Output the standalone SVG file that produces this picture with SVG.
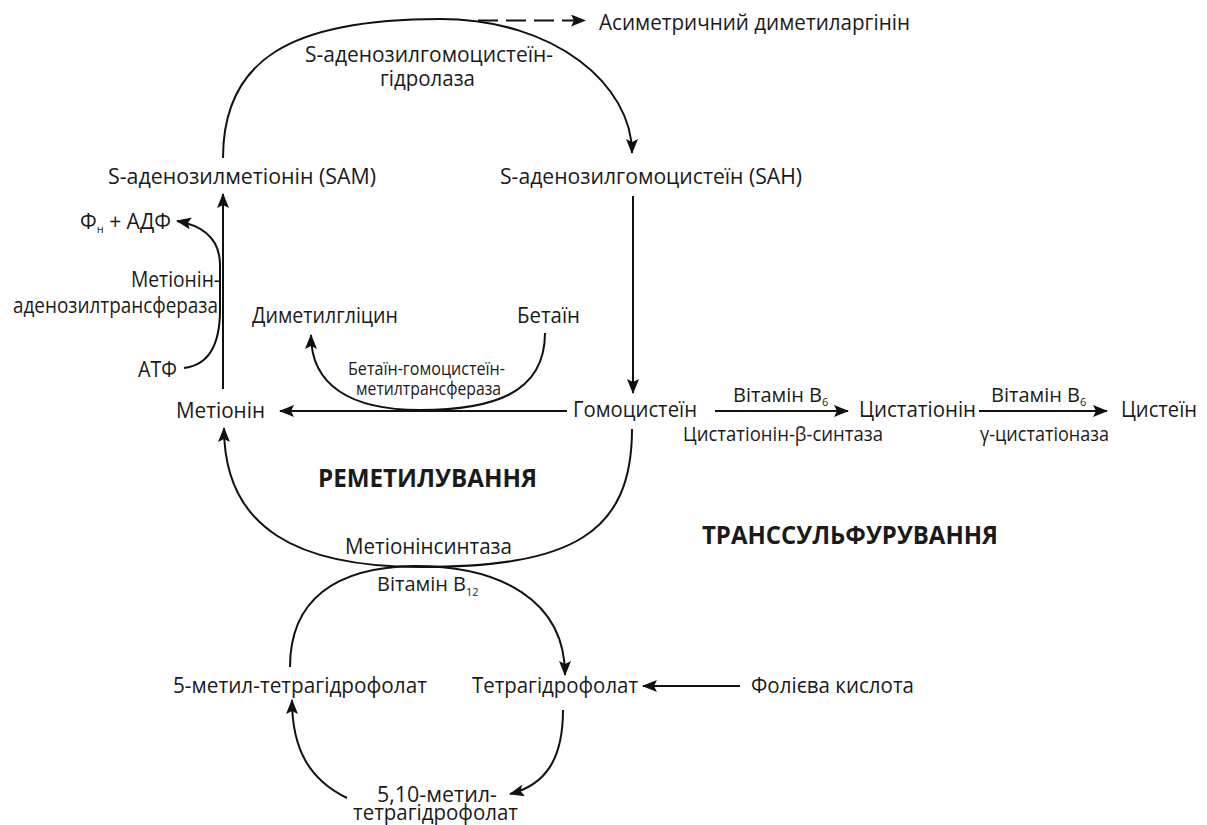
<svg xmlns="http://www.w3.org/2000/svg" width="1207" height="825" viewBox="0 0 1207 825">
<defs>
<style>
text{font-family:"Open Sans","Noto Sans","DejaVu Sans",sans-serif;font-size:21px;fill:#1a1a1a}
.sm{font-size:18px}
.enz{font-size:20px}
.b{font-weight:bold;font-size:25px}
.sub{font-size:11px}
.c{fill:none;stroke:#111;stroke-width:2}
.d{fill:none;stroke:#111;stroke-width:2;stroke-dasharray:20 8}
</style>
<marker id="ah" viewBox="0 0 15 12" markerWidth="15" markerHeight="12" refX="14" refY="6" orient="auto" markerUnits="userSpaceOnUse">
<path d="M0,0 L15,6 L0,12 L3,6 Z" fill="#111"/>
</marker>
</defs>
<rect width="1207" height="825" fill="#fff"/>

<g id="connectors">
<path class="c" d="M223,158 C223,60 290,19 440,19 C555,19 632,85 632,153" marker-end="url(#ah)"/>
<path class="d" d="M478,20.5 L585,20.5" marker-end="url(#ah)"/>
<path class="c" d="M223,389 L223,194" marker-end="url(#ah)"/>
<path class="c" d="M184,368 C209,365 220,345 220,310 L220,265 C220,240 205,226 177,221" marker-end="url(#ah)"/>
<path class="c" d="M633,196 L633,393" marker-end="url(#ah)"/>
<path class="c" d="M567,411 L280,411" marker-end="url(#ah)"/>
<path class="c" d="M545,333 C545,395 490,410 420,410 C350,410 311,385 311,335" marker-end="url(#ah)"/>
<path class="c" d="M715,411 L848,411" marker-end="url(#ah)"/>
<path class="c" d="M979,411 L1107,411" marker-end="url(#ah)"/>
<path class="c" d="M632,429 C632,535 570,567 420,567 C300,567 224,530 224,428" marker-end="url(#ah)"/>
<path class="c" d="M290,667 C290,600 335,567 415,566 C500,566 565,600 565,675" marker-end="url(#ah)"/>
<path class="c" d="M740,686 L643,686" marker-end="url(#ah)"/>
<path class="c" d="M563,710 C563,760 545,785 510,794" marker-end="url(#ah)"/>
<path class="c" d="M347,798 C310,780 292,750 292,700" marker-end="url(#ah)"/>
</g>

<g id="adma"><text x="599" y="30" textLength="311" lengthAdjust="spacingAndGlyphs">Асиметричний диметиларгінін</text></g>
<g id="sahh"><text x="305" y="62" textLength="248" lengthAdjust="spacingAndGlyphs">S-аденозилгомоцистеїн-</text><text x="380" y="86" textLength="95" lengthAdjust="spacingAndGlyphs">гідролаза</text></g>
<g id="sam"><text x="108" y="184" textLength="268" lengthAdjust="spacingAndGlyphs">S-аденозилметіонін (SAM)</text></g>
<g id="sah"><text x="500" y="184" textLength="302" lengthAdjust="spacingAndGlyphs">S-аденозилгомоцистеїн (SAH)</text></g>
<g id="pi-adp"><text x="80" y="229">Ф<tspan class="sub" dy="4">н</tspan><tspan dy="-4"> + АДФ</tspan></text></g>
<g id="mat"><text x="131" y="287" textLength="89" lengthAdjust="spacingAndGlyphs">Метіонін-</text><text x="13" y="313" textLength="205" lengthAdjust="spacingAndGlyphs">аденозилтрансфераза</text></g>
<g id="dmg"><text x="252" y="323" textLength="146" lengthAdjust="spacingAndGlyphs">Диметилгліцин</text></g>
<g id="betaine"><text x="517" y="323" textLength="63" lengthAdjust="spacingAndGlyphs">Бетаїн</text></g>
<g id="atp"><text x="138" y="377" textLength="39" lengthAdjust="spacingAndGlyphs">АТФ</text></g>
<g id="bhmt"><text class="sm" x="348" y="375" textLength="157" lengthAdjust="spacingAndGlyphs">Бетаїн-гомоцистеїн-</text><text class="sm" x="356" y="395" textLength="145" lengthAdjust="spacingAndGlyphs">метилтрансфераза</text></g>
<g id="met"><text x="176" y="418" textLength="89" lengthAdjust="spacingAndGlyphs">Метіонін</text></g>
<g id="hcy"><text x="573" y="417" textLength="124" lengthAdjust="spacingAndGlyphs">Гомоцистеїн</text></g>
<g id="b6a"><text class="enz" x="733" y="402">Вітамін В<tspan class="sub" dy="4">6</tspan></text></g>
<g id="cysta"><text x="859" y="417" textLength="117" lengthAdjust="spacingAndGlyphs">Цистатіонін</text></g>
<g id="b6b"><text class="enz" x="991" y="402">Вітамін В<tspan class="sub" dy="4">6</tspan></text></g>
<g id="cys"><text x="1121" y="417" textLength="76" lengthAdjust="spacingAndGlyphs">Цистеїн</text></g>
<g id="cbs"><text class="enz" x="683" y="441" textLength="200" lengthAdjust="spacingAndGlyphs">Цистатіонін-β-синтаза</text></g>
<g id="cgl"><text class="enz" x="980" y="441" textLength="129" lengthAdjust="spacingAndGlyphs">γ-цистатіоназа</text></g>
<g id="remeth"><text class="b" x="318" y="487" textLength="219" lengthAdjust="spacingAndGlyphs">РЕМЕТИЛУВАННЯ</text></g>
<g id="transs"><text class="b" x="702" y="544" textLength="296" lengthAdjust="spacingAndGlyphs">ТРАНССУЛЬФУРУВАННЯ</text></g>
<g id="ms"><text x="345" y="554" textLength="167" lengthAdjust="spacingAndGlyphs">Метіонінсинтаза</text></g>
<g id="b12"><text class="enz" x="377" y="591">Вітамін В<tspan class="sub" dy="5">12</tspan></text></g>
<g id="mthf"><text x="173" y="693" textLength="254" lengthAdjust="spacingAndGlyphs">5-метил-тетрагідрофолат</text></g>
<g id="thf"><text x="472" y="693" textLength="166" lengthAdjust="spacingAndGlyphs">Тетрагідрофолат</text></g>
<g id="folic"><text x="751" y="693" textLength="163" lengthAdjust="spacingAndGlyphs">Фолієва кислота</text></g>
<g id="methylene"><text x="377" y="802" textLength="120" lengthAdjust="spacingAndGlyphs">5,10-метил-</text><text x="353" y="820" textLength="165" lengthAdjust="spacingAndGlyphs">тетрагідрофолат</text></g>
</svg>
